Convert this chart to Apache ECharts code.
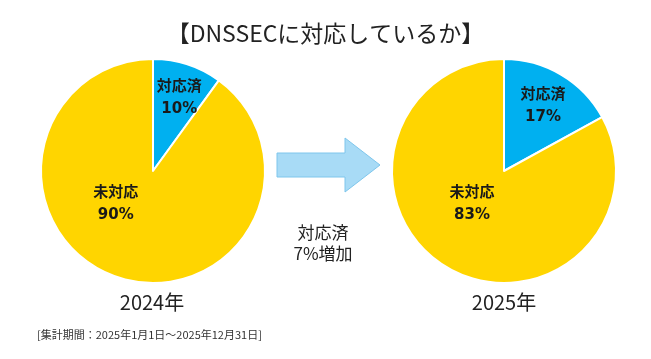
<!DOCTYPE html>
<html><head><meta charset="utf-8">
<script src="https://cdn.jsdelivr.net/npm/echarts@6/dist/echarts.min.js"></script>
<style>html,body{margin:0;padding:0;background:#fff}#c{width:651px;height:359px}</style>
</head><body><div id="c"></div>
<script>
const title = '【DNSSECに対応しているか】';
const categories = ['対応済', '未対応'];
const years = ['2024年', '2025年'];
const values2024 = [10, 90];
const values2025 = [17, 83];
const changeText = '対応済\n7%増加';
const note = '[集計期間：2025年1月1日～2025年12月31日]';

const colors = ['#00B0F0', '#FFD500'];
const font = '"Noto Sans CJK JP", sans-serif';
const labelFont = '"DejaVu Sans", "Noto Sans CJK JP", sans-serif';

function pie(center, vals, offsets) {
  return {
    type: 'pie', center: center, radius: 112, startAngle: 90, clockwise: true,
    silent: true, animation: false,
    itemStyle: { borderColor: '#fff', borderWidth: 2 },
    labelLine: { show: false },
    data: categories.map((c, i) => ({
      name: c, value: vals[i],
      itemStyle: { color: colors[i] },
      label: {
        show: true, position: 'inside', offset: offsets[i],
        formatter: '{b}\n{c}%', color: '#1a1a1a', fontWeight: 'bold',
        fontSize: 15, lineHeight: 22, fontFamily: labelFont
      }
    }))
  };
}

const chart = echarts.init(document.getElementById('c'));
chart.setOption({
  backgroundColor: '#fff',
  title: { text: title, left: 'center', top: 17, textStyle: { fontSize: 23, fontWeight: 'normal', color: '#222', fontFamily: font } },
  series: [
    pie([153, 171], values2024, [[8, -17], [-19, -23]]),
    pie([504, 171], values2025, [[9, -14], [-2, -18]])
  ],
  graphic: [
    { type: 'polygon', shape: { points: [[277,153],[345,153],[345,138],[380,165],[345,192],[345,177],[277,177]] },
      style: { fill: '#A8DBF6', stroke: '#7EC6EC', lineWidth: 1 } },
    { type: 'text', x: 323, y: 243, style: { text: changeText, fontSize: 17, lineHeight: 21, fill: '#222', align: 'center', verticalAlign: 'middle', fontFamily: font } },
    { type: 'text', x: 152, y: 302, style: { text: years[0], fontSize: 20, fill: '#222', align: 'center', verticalAlign: 'middle', fontFamily: font } },
    { type: 'text', x: 504, y: 302, style: { text: years[1], fontSize: 20, fill: '#222', align: 'center', verticalAlign: 'middle', fontFamily: font } },
    { type: 'text', x: 37, y: 335, style: { text: note, fontSize: 11, fill: '#333', align: 'left', verticalAlign: 'middle', fontFamily: font } }
  ]
});
</script></body></html>
